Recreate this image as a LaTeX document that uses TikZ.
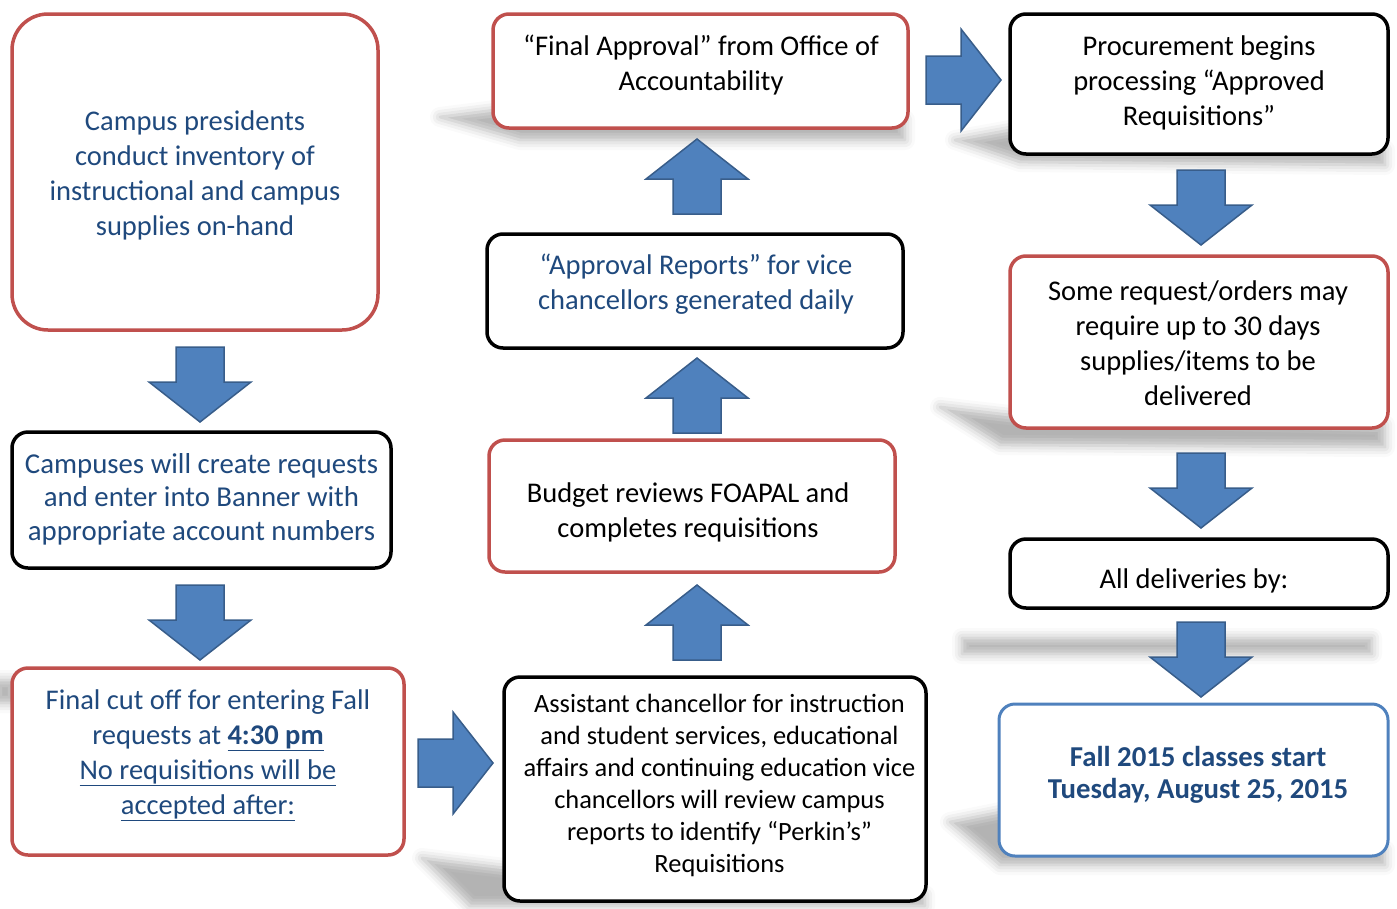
\documentclass[tikz,border=0pt]{standalone}
\usepackage{fontspec}
\setmainfont{Carlito}
\usetikzlibrary{shadows.blur}
\definecolor{tblue}{RGB}{31,73,125}
\definecolor{ored}{RGB}{192,80,77}
\definecolor{oblue}{RGB}{79,129,189}
\definecolor{odark}{RGB}{56,93,138}
\tikzset{
 box/.style={draw, line width=3.5pt, rounded corners=16pt, fill=white, inner sep=0pt},
 redbox/.style={box, draw=ored},
 blkbox/.style={box, draw=black},
 bluebox/.style={box, draw=oblue, line width=3pt},
 txt/.style={align=center, inner sep=0pt, yshift=-2.5pt, font=\fontsize{28.5}{35}\selectfont},
 shade/.style={blur shadow={shadow xshift=0pt, shadow yshift=0pt, shadow blur radius=10pt, shadow opacity=30}},
 pics/barrow/.style={code={\filldraw[fill=oblue, draw=odark, line width=1.5pt, line join=miter] (0,-24)--(35,-24)--(35,-51)--(75,0)--(35,51)--(35,24)--(0,24)--cycle;}}
}
\begin{document}
\begin{tikzpicture}[x=1pt,y=-1pt]
\useasboundingbox (0,0) rectangle (1397,908);
% shadows
\path[shade] (440,117) -- (495,110) -- (905,120) -- (905,140) -- (520,140) -- cycle;
\path[shade] (955,140) -- (1010,130) -- (1385,150) -- (1385,165) -- (1020,162) -- cycle;
\path[shade] (940,407) -- (1010,415) -- (1385,425) -- (1385,447) -- (1000,445) -- cycle;
\path[shade] (962,638) -- (1372,638) -- (1372,654) -- (962,654) -- cycle;
\path[shade] (950,822) -- (1000,812) -- (1385,850) -- (1385,865) -- (1000,865) -- cycle;
\path[shade] (422,858) -- (505,868) -- (925,895) -- (925,906) -- (470,906) -- cycle;
\path[shade] (-5,680) -- (15,680) -- (15,703) -- (-5,703) -- cycle;
% boxes
\node[redbox, rounded corners=36pt, minimum width=366pt, minimum height=316pt] (b1) at (195,172) {};
\node[blkbox, minimum width=379pt, minimum height=136pt] (b2) at (201.5,500) {};
\node[redbox, minimum width=392pt, minimum height=187pt] (b3) at (208,761.5) {};
\node[blkbox, minimum width=422pt, minimum height=224pt] (b4) at (715,789) {};
\node[redbox, minimum width=406pt, minimum height=132pt] (b5) at (692,506) {};
\node[blkbox, minimum width=416pt, minimum height=114pt] (b6) at (695,291) {};
\node[redbox, minimum width=415pt, minimum height=114pt] (b7) at (700.5,71) {};
\node[blkbox, minimum width=378pt, minimum height=140pt] (b8) at (1199,84) {};
\node[redbox, minimum width=378pt, minimum height=172pt] (b9) at (1199,342) {};
\node[blkbox, minimum width=378pt, minimum height=69pt] (b10) at (1199,573.5) {};
\node[bluebox, minimum width=389pt, minimum height=152pt] (b11) at (1193.5,780) {};
% block arrows
\pic at (200,347) [rotate=-90] {barrow};
\pic at (200,585) [rotate=-90] {barrow};
\pic at (418,763) {barrow};
\pic at (697,660) [rotate=90] {barrow};
\pic at (697,433) [rotate=90] {barrow};
\pic at (697,214) [rotate=90] {barrow};
\pic at (926,80) {barrow};
\pic at (1201,170) [rotate=-90] {barrow};
\pic at (1201,453) [rotate=-90] {barrow};
\pic at (1201,622) [rotate=-90] {barrow};
% texts
\node[txt, text=tblue] (t1) at (195,172.5) {Campus presidents\\conduct inventory of\\instructional and campus\\supplies on-hand};
\node[txt, text=tblue, font=\fontsize{28.8}{33.5}\selectfont] (t2) at (201.5,496.5) {Campuses will create requests\\and enter into Banner with\\appropriate account numbers};
\node[txt, text=tblue] (t3) at (208,752.5) {Final cut off for entering Fall\\requests at \underline{\textbf{4:30 pm}}\\\underline{No requisitions will be}\\\underline{accepted after:}};
\node[txt, font=\fontsize{26.4}{32}\selectfont] (t4) at (719.5,783) {Assistant chancellor for instruction\\and student services, educational\\affairs and continuing education vice\\chancellors will review campus\\reports to identify “Perkin’s”\\Requisitions};
\node[txt] (t5) at (688,510) {Budget reviews FOAPAL and\\completes requisitions};
\node[txt, text=tblue] (t6) at (696,282) {“Approval Reports” for vice\\chancellors generated daily};
\node[txt] (t7) at (701,63) {“Final Approval” from Office of\\Accountability};
\node[txt] (t8) at (1199,80) {Procurement begins\\processing “Approved\\Requisitions”};
\node[txt] (t9) at (1198,340.5) {Some request/orders may\\require up to 30 days\\supplies/items to be\\delivered};
\node[txt] (t10) at (1194,578) {All deliveries by:};
\node[txt, text=tblue, font=\fontsize{28.8}{32}\selectfont\bfseries] (t11) at (1198,772) {Fall 2015 classes start\\Tuesday, August 25, 2015};
\end{tikzpicture}
\end{document}
